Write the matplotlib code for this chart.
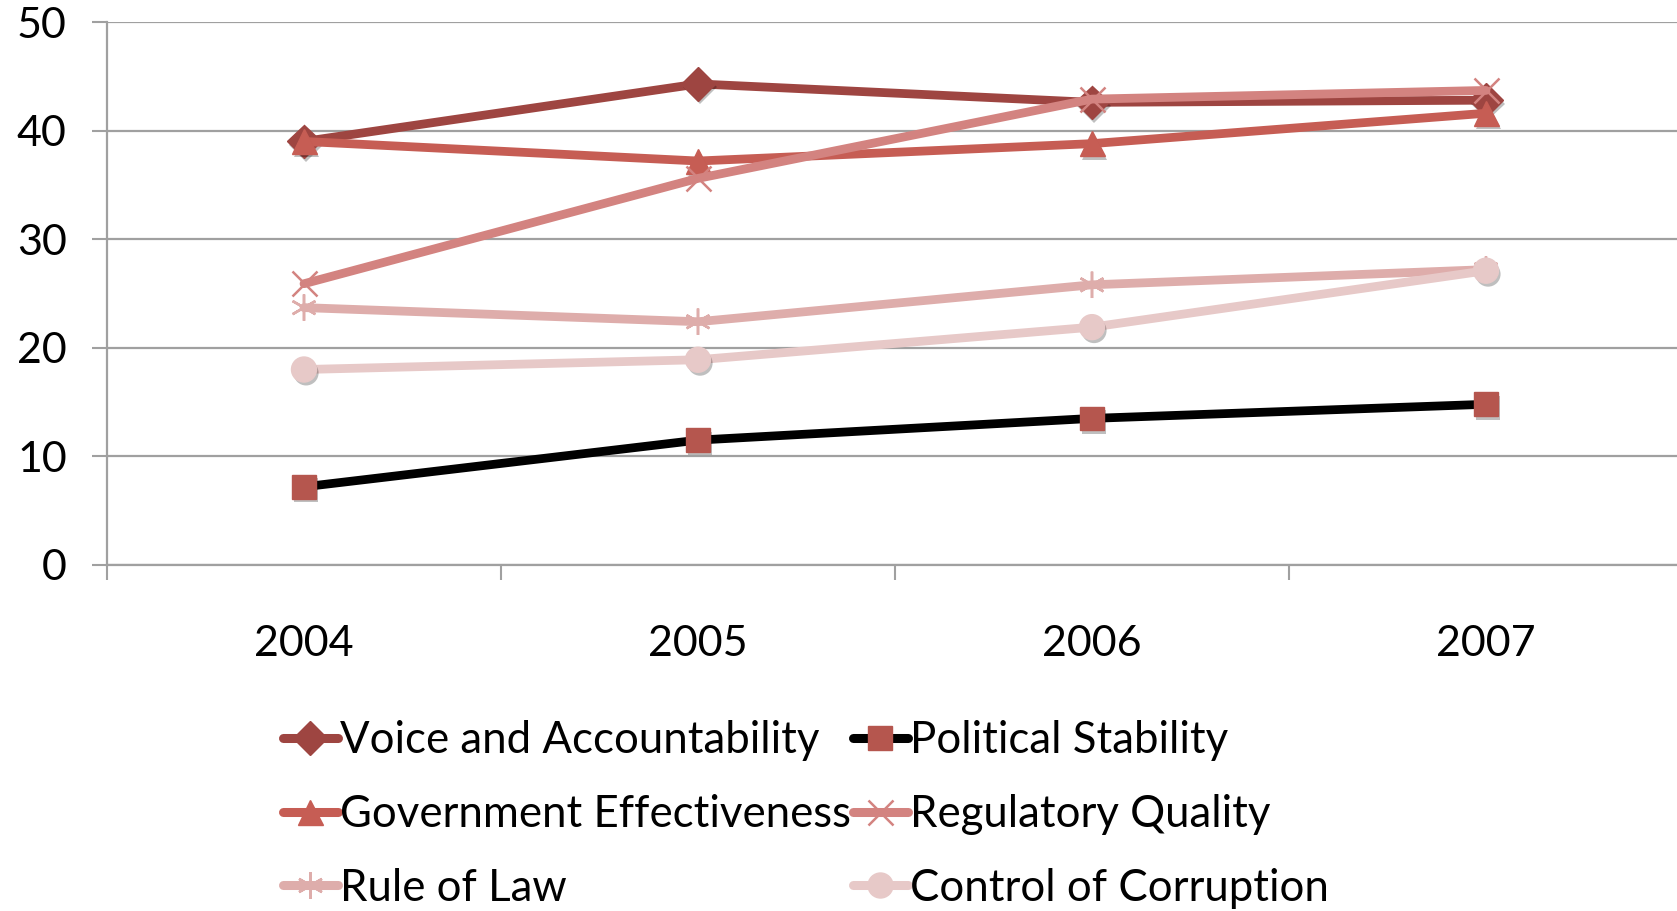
import matplotlib
matplotlib.use("Agg")
import matplotlib.pyplot as plt
from matplotlib.lines import Line2D
import matplotlib.patheffects as pe

years = ["2004", "2005", "2006", "2007"]
voice = [39.0, 44.3, 42.6, 42.8]
political = [7.2, 11.5, 13.5, 14.8]
government = [39.0, 37.2, 38.8, 41.6]
regulatory = [25.9, 35.6, 42.9, 43.7]
rule_of_law = [23.7, 22.4, 25.8, 27.2]
corruption = [18.0, 18.9, 21.9, 27.1]

series = [
    ("Voice and Accountability", voice, "#9E4541", "#9E4541", "D", 17),
    ("Political Stability", political, "#000000", "#B5564E", "s", 17),
    ("Government Effectiveness", government, "#C65D54", "#C65D54", "^", 18),
    ("Regulatory Quality", regulatory, "#D38380", "#D38380", "x", 18),
    ("Rule of Law", rule_of_law, "#DEADAB", "#DEADAB", (6, 2, 0), 19),
    ("Control of Corruption", corruption, "#E7C9C8", "#E7C9C8", "o", 18),
]

plt.rcParams['font.family'] = ['Lato', 'DejaVu Sans']

fig = plt.figure(figsize=(16.77, 9.11), dpi=100)
ax = fig.add_axes([107/1677, (911-565)/911, (1683-107)/1677, 543/911])

x = list(range(len(years)))
grid_c = "#A0A0A0"
handles = []
for i, (name, vals, lc, mc, mk, ms) in enumerate(series):
    ax.plot(x, vals, color=lc, lw=6.3, solid_capstyle="round", zorder=3 + i * 2)
    filled = mk not in ("x", (6, 2, 0))
    ax.plot(x, vals, ls="none", marker=mk, ms=ms, mfc=mc, mec=mc,
            mew=1.8 if not filled else 1.0, zorder=4 + i * 2,
            path_effects=[pe.SimplePatchShadow(offset=(1.5, -2.5), alpha=0.25,
                                               shadow_rgbFace="k"), pe.Normal()])
    handles.append(Line2D([], [], color=lc, lw=6.5, solid_capstyle="round",
                          marker=mk, ms=ms, mfc=mc, mec=mc,
                          mew=1.8 if not filled else 1.0))

ax.set_xlim(-0.5, 3.5)
ax.set_ylim(0, 50)
ax.set_yticks([0, 10, 20, 30, 40, 50])
ax.set_xticks(x)
ax.set_xticklabels(years)
ax.set_xticks([-0.5, 0.5, 1.5, 2.5, 3.5], minor=True)
ax.tick_params(axis="x", which="major", length=0, pad=43, labelsize=31)
ax.tick_params(axis="x", which="minor", length=11, width=1.5, color=grid_c, direction="out")
ax.tick_params(axis="y", length=11, width=1.5, color=grid_c, pad=18, labelsize=31)
ax.yaxis.grid(True, color=grid_c, lw=1.6)
ax.set_axisbelow(True)
for s in ("top", "right"):
    ax.spines[s].set_visible(False)
for s in ("left", "bottom"):
    ax.spines[s].set_color(grid_c)
    ax.spines[s].set_linewidth(1.6)

order = [0, 2, 4, 1, 3, 5]
leg = fig.legend([handles[k] for k in order], [series[k][0] for k in order],
                 ncol=2, loc="upper left", bbox_to_anchor=(283/1677, 1 - 720/911),
                 frameon=False, fontsize=31.5, handlelength=1.25, handletextpad=0.05,
                 columnspacing=0.05, labelspacing=0.75, borderpad=0, borderaxespad=0)

fig.savefig("out.png", dpi=100)
